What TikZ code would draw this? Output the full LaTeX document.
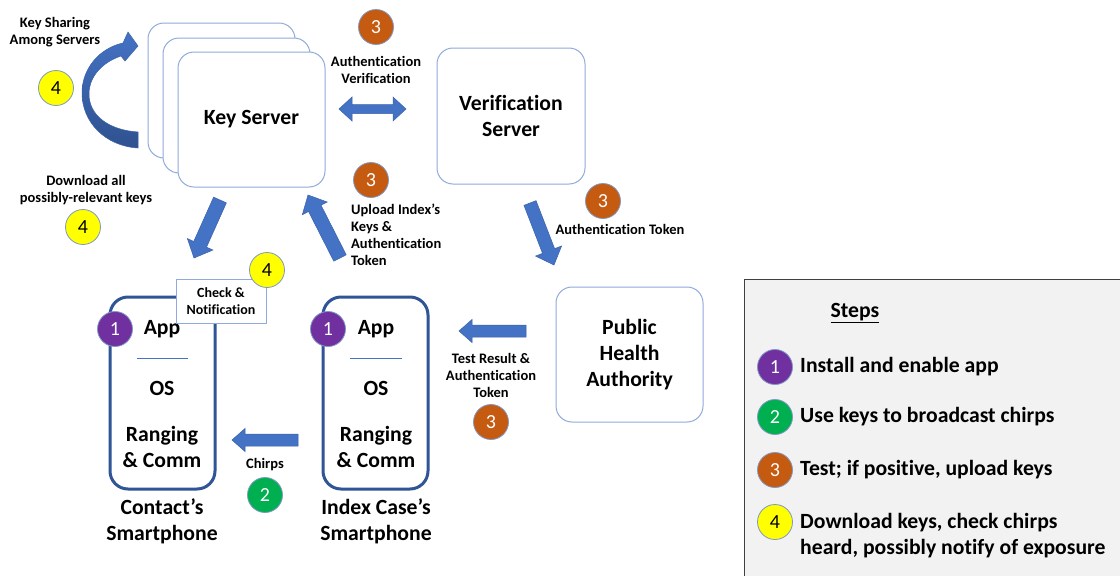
\documentclass[tikz,border=0pt]{standalone}
\usepackage{fontspec}
\setmainfont{Carlito}[Ligatures=NoCommon]
\usetikzlibrary{calc}
\definecolor{arrowblue}{HTML}{4472C4}
\definecolor{arrowedge}{HTML}{3A62AC}
\definecolor{arrowdark}{HTML}{2F528F}
\definecolor{boxline}{HTML}{8FAADC}
\definecolor{phoneline}{HTML}{2F5597}
\definecolor{badgeline}{HTML}{7F98C4}
\definecolor{cpurple}{HTML}{7030A0}
\definecolor{cgreen}{HTML}{00B050}
\definecolor{corange}{HTML}{C55A11}
\definecolor{cyellow}{HTML}{FFFF00}
\definecolor{stepsfill}{HTML}{F2F2F2}
\definecolor{stepsline}{HTML}{404040}
\newcommand\fatarrow[5]{% start, tip, half shaft, half head, head length
  \coordinate (fa-h) at ($(#2)!#5!(#1)$);
  \filldraw[arrowstyle] (#1) -- ($(#1)!#3!90:(#2)$) -- ($(fa-h)!#3!90:(#2)$) -- ($(fa-h)!#4!90:(#2)$) -- (#2)
    -- ($(fa-h)!#4!-90:(#2)$) -- ($(fa-h)!#3!-90:(#2)$) -- ($(#1)!#3!-90:(#2)$) -- cycle;
}
\newcommand\fatdoublearrow[5]{%
  \coordinate (fa-h1) at ($(#1)!#5!(#2)$);
  \coordinate (fa-h2) at ($(#2)!#5!(#1)$);
  \filldraw[arrowstyle] (#1) -- ($(fa-h1)!#4!90:(#2)$) -- ($(fa-h1)!#3!90:(#2)$) -- ($(fa-h2)!#3!90:(#2)$) -- ($(fa-h2)!#4!90:(#2)$) -- (#2)
    -- ($(fa-h2)!#4!-90:(#2)$) -- ($(fa-h2)!#3!-90:(#2)$) -- ($(fa-h1)!#3!-90:(#2)$) -- ($(fa-h1)!#4!-90:(#2)$) -- cycle;
}
\tikzset{
  arrowstyle/.style={fill=arrowblue, draw=arrowedge, line width=0.5pt, line join=miter},
  big/.style={font=\bfseries\fontsize{21.7}{26}\selectfont, align=center, inner sep=0pt},
  small/.style={font=\bfseries\fontsize{14.5}{17}\selectfont, align=center, inner sep=0pt},
  srv/.style={draw=boxline, line width=1pt, rounded corners=16pt, fill=white, font=\bfseries\fontsize{21.7}{26}\selectfont, align=center},
  phone/.style={draw=phoneline, line width=3pt, rounded corners=18pt, fill=white, minimum width=105pt, minimum height=192pt},
  badge/.style={circle, draw=badgeline, line width=0.8pt, minimum size=35pt, inner sep=0pt, font=\fontsize{20}{20}\selectfont},
  b1/.style={badge, fill=cpurple, text=white},
  b2/.style={badge, fill=cgreen, text=white},
  b3/.style={badge, fill=corange, text=white},
  b4/.style={badge, fill=cyellow, text=black},
}
\begin{document}
\begin{tikzpicture}[x=1pt,y=-1pt]
\useasboundingbox (0,0) rectangle (1120,576);
\fill[white] (0,0) rectangle (1120,576);

% Steps box
\node[draw=stepsline, fill=stepsfill, line width=1pt, minimum width=381pt, minimum height=302pt, inner sep=0pt] (stepsbox) at (934.5,430) {};
\node[big] (stepstitle) at (855,313) {\underline{Steps}};
\node[b1] (s1) at (775,367) {1};
\node[b2] (s2) at (775,417) {2};
\node[b3] (s3) at (775,470) {3};
\node[b4] (s4) at (775,522) {4};
\node[big, anchor=west, align=left] (t1) at (800,367) {Install and enable app};
\node[big, anchor=west, align=left] (t2) at (800,417) {Use keys to broadcast chirps};
\node[big, anchor=west, align=left] (t3) at (800,470) {Test; if positive, upload keys};
\node[big, anchor=west, align=left] (t4) at (800,536) {Download keys, check chirps\\heard, possibly notify of exposure};

% Key servers
\node[srv, minimum width=147pt, minimum height=135pt] (ks3) at (221.5,90.5) {};
\node[srv, minimum width=147pt, minimum height=135pt] (ks2) at (236.5,105.5) {};
\node[srv, minimum width=147pt, minimum height=135pt] (ks) at (251.5,119.5) {Key Server};

% Verification server
\node[srv, minimum width=148pt, minimum height=136pt] (vs) at (511,116) {Verification\\Server};
% Public health authority
\node[srv, minimum width=147pt, minimum height=135pt] (pha) at (629.5,354.5) {Public\\Health\\Authority};

% Phones
\node[phone] (cp) at (162.5,393) {};
\node[phone] (ip) at (375.5,393) {};
\node[big] (cpapp) at (162,329) {App};
\node[big] (cpos) at (162,388) {OS};
\node[big] (cprc) at (162,447) {Ranging\\\& Comm};
\node[big] (ipapp) at (376,329) {App};
\node[big] (ipos) at (376,388) {OS};
\node[big] (iprc) at (376,447) {Ranging\\\& Comm};
\coordinate (cpl1) at (137,358); \coordinate (cpl2) at (188,358);
\coordinate (ipl1) at (350,358); \coordinate (ipl2) at (402,358);
\draw[arrowblue, line width=0.8pt] (cpl1) -- (cpl2);
\draw[arrowblue, line width=0.8pt] (ipl1) -- (ipl2);
\node[big] (cplabel) at (162,521) {Contact’s\\Smartphone};
\node[big] (iplabel) at (376,521) {Index Case’s\\Smartphone};
\node[b1] (cpb) at (115,329) {1};
\node[b1] (ipb) at (328,329) {1};

% Check & Notification
\node[draw=boxline, line width=1pt, fill=white, minimum width=90pt, minimum height=44pt, font=\bfseries\fontsize{14}{17}\selectfont, align=center, inner sep=0pt] (check) at (221,301) {Check \&\\Notification};
\node[b4] (checkb) at (267,270) {4};

% Curved arrow (key sharing)
\shade[top color=arrowblue, middle color=arrowblue, bottom color=arrowdark, draw=arrowedge, line width=0.5pt]
  (138,148) .. controls (105,146) and (82,122) .. (82,93)
  .. controls (82,68) and (100,48) .. (123,43)
  -- (128,32) -- (138,46) -- (125,61) -- (121,56)
  .. controls (103,62) and (89,76) .. (89,94)
  .. controls (89,115) and (108,130) .. (138,132) -- cycle;
\node[small] (kslabel) at (55,32) {Key Sharing\\Among Servers};
\node[b4] (ksb) at (56,88) {4};

% Download
\node[small] (dllabel) at (86,190) {Download all\\possibly-relevant keys};
\node[b4] (dlb) at (83,227) {4};
\coordinate (dla) at (220,200); \coordinate (dlb2) at (194,258);
\fatarrow{dla}{dlb2}{7pt}{14pt}{15pt}

% Upload
\coordinate (upa) at (340,258); \coordinate (upb) at (308,195);
\fatarrow{upa}{upb}{7pt}{14pt}{15pt}
\node[b3] (upbadge) at (371,180) {3};
\node[small, anchor=west, align=left] (uplabel) at (351,235) {Upload Index’s\\Keys \&\\Authentication\\Token};

% Authentication verification
\coordinate (ava) at (339,109); \coordinate (avb) at (406,109);
\fatdoublearrow{ava}{avb}{4.5pt}{12pt}{13pt}
\node[small] (avlabel) at (376,70) {Authentication\\Verification};
\node[b3] (avbadge) at (376,27) {3};

% Authentication token
\coordinate (ata) at (530,203); \coordinate (atb) at (554,265);
\fatarrow{ata}{atb}{6.5pt}{14pt}{15pt}
\node[b3] (atbadge) at (603,201) {3};
\node[small] (atlabel) at (620,229) {Authentication Token};

% Test result
\coordinate (tra) at (526,331); \coordinate (trb) at (459,331);
\fatarrow{tra}{trb}{6pt}{11.5pt}{13pt}
\node[small] (trlabel) at (491,375) {Test Result \&\\Authentication\\Token};
\node[b3] (trbadge) at (491,422) {3};

% Chirps
\coordinate (cha) at (298,440); \coordinate (chb) at (232,440);
\fatarrow{cha}{chb}{6pt}{11.5pt}{13pt}
\node[small] (chlabel) at (265,465) {Chirps};
\node[b2] (chbadge) at (265,495) {2};
\end{tikzpicture}
\end{document}
